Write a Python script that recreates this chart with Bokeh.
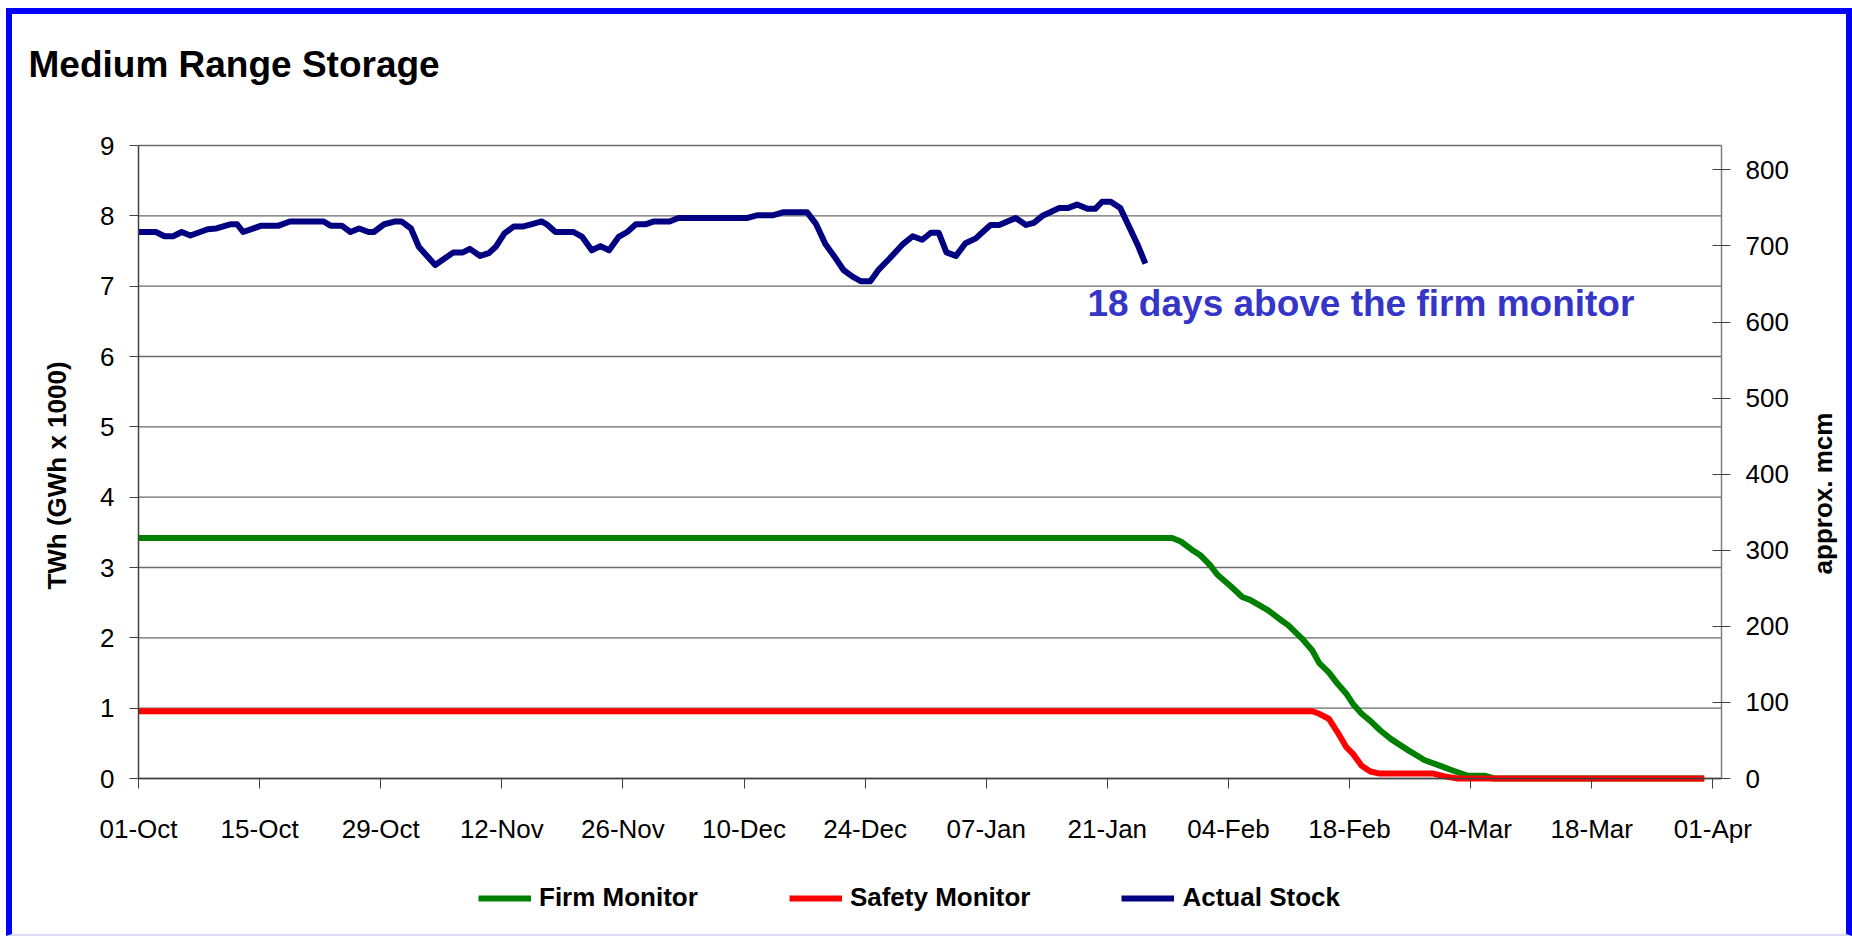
import math
from bokeh.plotting import figure
from bokeh.models import (Range1d, LinearAxis, FixedTicker, Label, Legend, LegendItem)
from bokeh.embed import file_html
from bokeh.resources import INLINE

# ---------------- data (days counted from 01-Oct) ----------------
tick_days = [0, 14, 28, 42, 56, 70, 84, 98, 112, 126, 140, 154, 168, 182]
tick_labels = ["01-Oct", "15-Oct", "29-Oct", "12-Nov", "26-Nov", "10-Dec", "24-Dec",
               "07-Jan", "21-Jan", "04-Feb", "18-Feb", "04-Mar", "18-Mar", "01-Apr"]

stock_days = [0, 2, 3, 4, 5, 6, 8, 9, 10.6, 11.4, 12.1, 14.2, 16.2, 17.5, 21.4, 22.2, 23.5,
              24.5, 25.5, 26.6, 27.2, 28.4, 29.7, 30.4, 31.5, 32.4, 34.3, 36.4, 37.5, 38.3,
              39.5, 40.5, 41.3, 42.3, 43.4, 44.5, 45.4, 46.6, 47.2, 48.2, 50.3, 51.3, 52.4,
              53.4, 54.4, 55.5, 56.5, 57.5, 58.6, 59.6, 61.4, 62.4, 70.4, 71.6, 73.4, 74.5,
              77.3, 78.3, 79.4, 80.4, 81.5, 82.5, 83.5, 84.6, 85.6, 86.8, 88.3, 89.5, 90.6,
              91.6, 92.5, 93.4, 94.5, 95.6, 96.8, 97.5, 98.5, 99.5, 101.4, 102.6, 103.5,
              104.5, 105.4, 106.4, 107.4, 108.5, 109.7, 110.6, 111.4, 112.4, 113.5, 114.5,
              115.5, 116.4]
stock_twh = [7.77, 7.77, 7.71, 7.71, 7.77, 7.72, 7.81, 7.82, 7.88, 7.88, 7.77, 7.86, 7.86,
             7.92, 7.92, 7.86, 7.86, 7.77, 7.82, 7.77, 7.77, 7.88, 7.92, 7.92, 7.82, 7.56,
             7.30, 7.48, 7.48, 7.53, 7.43, 7.47, 7.56, 7.75, 7.85, 7.85, 7.88, 7.92, 7.88,
             7.77, 7.77, 7.70, 7.51, 7.57, 7.51, 7.70, 7.77, 7.88, 7.88, 7.92, 7.92, 7.97,
             7.97, 8.01, 8.01, 8.05, 8.05, 7.89, 7.60, 7.43, 7.23, 7.14, 7.07, 7.07, 7.24,
             7.39, 7.59, 7.71, 7.66, 7.76, 7.76, 7.48, 7.43, 7.61, 7.68, 7.76, 7.87, 7.87,
             7.97, 7.87, 7.90, 8.00, 8.05, 8.11, 8.11, 8.16, 8.10, 8.10, 8.20, 8.20, 8.11,
             7.85, 7.59, 7.32]

firm_days = [0, 119.5, 120.5, 121.8, 122.8, 123.9, 124.7, 126.2, 127.6, 128.5, 130.6, 132.1,
             132.9, 134.5, 135.7, 136.5, 137.6, 138.6, 139.6, 140.4, 141.4, 142.4, 143.5,
             144.8, 146.8, 148.7, 150.5, 152.0, 153.6, 155.6, 156.7, 181.0]
firm_twh = [3.42, 3.42, 3.37, 3.25, 3.17, 3.03, 2.90, 2.74, 2.58, 2.54, 2.39, 2.25, 2.18,
            1.99, 1.82, 1.64, 1.51, 1.35, 1.21, 1.06, 0.92, 0.82, 0.69, 0.56, 0.40, 0.26,
            0.18, 0.11, 0.04, 0.04, 0.0, 0.0]

safety_days = [0, 135.7, 136.5, 137.6, 138.6, 139.6, 140.4, 141.4, 142.4, 143.5, 149.7,
               151.0, 152.5, 181.0]
safety_twh = [0.957, 0.957, 0.92, 0.85, 0.66, 0.45, 0.35, 0.18, 0.10, 0.07, 0.07, 0.03, 0.0, 0.0]

twh_ticks = [0, 1, 2, 3, 4, 5, 6, 7, 8, 9]
mcm_ticks = [0, 100, 200, 300, 400, 500, 600, 700, 800]
mcm_per_twh = 832 / 9        # right-axis scale

series_names = ["Firm Monitor", "Safety Monitor", "Actual Stock"]
series_colors = ["#008000", "#ff0000", "#000080"]

FONT = "Liberation Sans"

# ---------------- layout geometry (pixels) ----------------
W, H = 1846, 928              # canvas
PX_DAY = 1583 / 183           # horizontal scale
PX_TWH = 633 / 9              # vertical scale
X0, Y0 = 126, 764             # canvas position of (day 0, 0 TWh), from top-left
DAY_END, TWH_END = 183, 9     # plot-area extent in data units

x_lo = -X0 / PX_DAY
x_hi = (W - X0) / PX_DAY
y_lo = -(H - Y0) / PX_TWH
y_hi = Y0 / PX_TWH

p = figure(width=W, height=H,
           x_range=Range1d(x_lo, x_hi), y_range=Range1d(y_lo, y_hi),
           output_backend="svg", toolbar_location=None,
           min_border=0, outline_line_color=None,
           background_fill_color="white", border_fill_color="white",
           styles={"margin-left": "6px", "margin-top": "8px",
                   "border-top": "6px solid #0000ff",
                   "border-left": "6px solid #0000ff",
                   "border-right": "6px solid #0000ff",
                   "border-bottom": "2px solid #dcdcf6"})

p.xgrid.visible = False
p.ygrid.visible = False

# horizontal grid lines over the plot area only
p.segment(x0=[0] * len(twh_ticks), y0=twh_ticks, x1=[DAY_END] * len(twh_ticks), y1=twh_ticks,
          line_color="#6a6a6a", line_width=1.3)

# x axis (at 0 TWh)
xa = p.xaxis[0]
xa.fixed_location = 0
xa.bounds = (0, DAY_END)
xa.ticker = FixedTicker(ticks=tick_days)
xa.major_label_overrides = {d: t for d, t in zip(tick_days, tick_labels)}
xa.minor_tick_line_color = None
xa.major_tick_in = 0
xa.major_tick_out = 10
xa.major_tick_line_color = "#404040"
xa.axis_line_color = "#404040"
xa.axis_line_width = 1.5
xa.major_label_standoff = 25
xa.major_label_text_font = FONT
xa.major_label_text_font_size = "26px"
xa.major_label_text_color = "black"

# left axis (at day 0)
ya = p.yaxis[0]
ya.fixed_location = 0
ya.bounds = (0, TWH_END)
ya.ticker = FixedTicker(ticks=twh_ticks)
ya.minor_tick_line_color = None
ya.major_tick_in = 0
ya.major_tick_out = 9
ya.major_tick_line_color = "#404040"
ya.axis_line_color = "#404040"
ya.axis_line_width = 1.5
ya.major_label_standoff = 15
ya.major_label_text_font = FONT
ya.major_label_text_font_size = "26px"
ya.major_label_text_color = "black"

# right axis (approx. mcm) at the right edge of the plot area
p.extra_y_ranges = {"mcm": Range1d(y_lo * mcm_per_twh, y_hi * mcm_per_twh)}
ra = LinearAxis(y_range_name="mcm", ticker=FixedTicker(ticks=mcm_ticks))
ra.fixed_location = DAY_END
ra.bounds = (0, TWH_END * mcm_per_twh)
ra.minor_tick_line_color = None
ra.major_tick_in = 9
ra.major_tick_out = 9
ra.major_tick_line_color = "#404040"
ra.axis_line_color = "#808080"
ra.axis_line_width = 1.5
ra.major_label_standoff = 15
ra.major_label_text_font = FONT
ra.major_label_text_font_size = "26px"
ra.major_label_text_color = "black"
p.add_layout(ra, "right")

# ---------------- series ----------------
r_firm = p.line(firm_days, firm_twh, line_color=series_colors[0], line_width=6, line_join="round")
r_safe = p.line(safety_days, safety_twh, line_color=series_colors[1], line_width=6, line_join="round")
r_stock = p.line(stock_days, stock_twh, line_color=series_colors[2], line_width=6, line_join="round")

legend = Legend(items=[LegendItem(label=series_names[0], renderers=[r_firm]),
                       LegendItem(label=series_names[1], renderers=[r_safe]),
                       LegendItem(label=series_names[2], renderers=[r_stock])],
                orientation="horizontal", location=(466, 26.5),
                glyph_width=53, glyph_height=36, label_height=30,
                label_standoff=8, spacing=91,
                padding=0, margin=0, border_line_alpha=0, background_fill_alpha=0,
                label_text_font=FONT, label_text_font_size="26px",
                label_text_font_style="bold", label_text_color="black")
p.add_layout(legend)

# ---------------- texts ----------------
p.add_layout(Label(x=16, y=H - 50, x_units="screen", y_units="screen",
                   text="Medium Range Storage", text_font=FONT, text_font_size="37px",
                   text_font_style="bold", text_color="black", text_baseline="alphabetic"))

p.add_layout(Label(x=44.7, y=H - 461, x_units="screen", y_units="screen",
                   text="TWh (GWh x 1000)", text_font=FONT, text_font_size="26px",
                   text_font_style="bold", text_color="black", angle=math.pi / 2,
                   text_align="center", text_baseline="alphabetic"))

p.add_layout(Label(x=1810.5, y=H - 479, x_units="screen", y_units="screen",
                   text="approx. mcm", text_font=FONT, text_font_size="26px",
                   text_font_style="bold", text_color="black", angle=math.pi / 2,
                   text_align="center", text_baseline="alphabetic"))

p.add_layout(Label(x=109.7, y=6.76, text="18 days above the firm monitor",
                   text_font=FONT, text_font_size="37px", text_font_style="bold",
                   text_color="#3535c8", text_baseline="alphabetic"))

open("out.html", "w").write(file_html(p, INLINE))
